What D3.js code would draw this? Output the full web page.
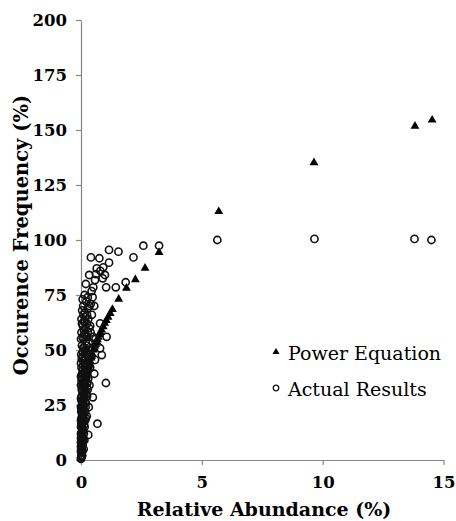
<!DOCTYPE html>
<html lang="en">
<head>
  <meta charset="UTF-8">
  <title>Occurence Frequency vs Relative Abundance</title>
  <style>
    body { margin: 0; background: #fff; }
    svg { display: block; }
  </style>
</head>
<body>
  <script src="https://cdn.jsdelivr.net/npm/d3@7/dist/d3.min.js"></script>
  <script>
// canvas size
const width = 456;
const height = 521;

// axis ticks
const xTicks = [0, 5, 10, 15];
const yTicks = [0, 25, 50, 75, 100, 125, 150, 175, 200];

// Power Equation points [relative abundance %, occurence frequency %]
const powerEq = [
  [0.001, 6.4], [0.002, 8.0], [0.003, 9.2], [0.005, 10.8], [0.008, 12.6],
  [0.01, 13.6], [0.015, 15.6], [0.02, 17.2], [0.025, 18.5], [0.03, 19.6],
  [0.035, 20.6], [0.04, 21.6], [0.045, 22.4], [0.05, 23.2], [0.055, 24.0],
  [0.06, 24.6], [0.07, 25.9], [0.08, 27.1], [0.09, 28.2], [0.1, 29.1],
  [0.11, 30.0], [0.12, 30.9], [0.14, 32.5], [0.16, 34.0], [0.18, 35.3],
  [0.2, 36.6], [0.21, 37.2], [0.23, 38.2], [0.24, 38.9], [0.26, 39.8],
  [0.28, 40.8], [0.3, 41.7], [0.32, 42.6], [0.34, 43.5], [0.36, 44.3],
  [0.38, 45.1], [0.42, 46.8], [0.44, 47.5], [0.47, 48.6], [0.52, 50.4],
  [0.55, 51.3], [0.58, 52.2], [0.61, 53.0], [0.65, 54.3], [0.68, 55.0],
  [0.72, 56.2], [0.76, 57.3], [0.8, 58.4], [0.85, 59.5], [0.92, 61.0],
  [0.98, 62.5], [1.05, 63.8], [1.12, 65.3], [1.21, 67.0], [1.3, 68.8],
  [1.56, 73.5], [1.88, 78.5], [2.25, 82.3], [2.65, 87.6], [3.23, 94.7],
  [5.7, 113.3], [9.64, 135.5], [13.82, 152.1], [14.53, 154.9]
];

// Actual Results points [relative abundance %, occurence frequency %]
const actual = [
  [5.64, 100.0], [9.66, 100.5], [13.8, 100.5], [14.5, 100.0],
  [3.23, 97.4], [2.58, 97.4], [2.17, 92.1], [1.55, 94.7], [1.16, 95.5],
  [0.41, 92.1], [0.76, 91.7], [1.16, 89.7], [0.65, 87.1], [0.92, 87.6],
  [0.34, 84.1], [0.58, 81.8], [0.9, 82.6], [0.99, 84.1], [1.04, 78.5],
  [1.44, 78.5], [1.85, 80.8], [0.51, 78.5], [0.44, 76.8], [0.28, 74.0],
  [0.48, 74.0], [0.55, 70.0], [0.79, 62.1], [1.06, 56.0], [0.79, 50.8],
  [1.03, 35.0], [0.68, 16.5], [0.49, 28.5], [0.55, 39.2], [0.58, 45.5],
  [0.86, 47.7], [0.3, 11.4], [0.62, 84.5], [0.8, 86.0], [0.2, 80.0],
  [0.05, 68], [0.1, 66], [0.15, 67], [0.2, 65], [0.12, 63], [0.25, 62],
  [0.3, 64], [0.08, 61], [0.18, 60], [0.35, 70], [0.4, 71], [0.28, 69],
  [0.22, 72], [0.45, 66], [0.38, 61], [0.07, 73], [0.15, 75], [0.02, 64],
  [0.02, 58], [0.06, 56], [0.1, 55], [0.14, 57], [0.2, 54], [0.26, 56],
  [0.32, 53], [0.04, 52], [0.09, 51], [0.17, 50], [0.24, 52], [0.4, 58],
  [0.5, 56], [0.45, 51], [0.6, 55], [0.0, 55], [0.12, 59], [0.28, 58],
  [0.01, 48], [0.03, 46], [0.06, 47], [0.1, 45], [0.14, 44], [0.19, 46],
  [0.23, 43], [0.28, 48], [0.33, 45], [0.02, 42], [0.07, 41], [0.12, 40],
  [0.17, 42], [0.38, 42], [0.42, 47], [0.0, 44], [0.08, 49], [0.21, 49],
  [0.0, 38], [0.02, 36], [0.05, 37], [0.08, 35], [0.11, 34], [0.15, 38],
  [0.2, 36], [0.25, 33], [0.03, 32], [0.06, 31], [0.1, 30], [0.14, 32],
  [0.3, 37], [0.35, 34], [0.0, 34], [0.04, 39], [0.12, 36], [0.18, 31],
  [0.0, 28], [0.02, 27], [0.04, 25], [0.07, 26], [0.1, 24], [0.13, 28],
  [0.17, 22], [0.01, 22], [0.05, 21], [0.08, 20], [0.2, 26], [0.25, 29],
  [0.32, 24], [0.0, 24], [0.03, 29], [0.12, 21], [0.15, 26],
  [0.0, 18], [0.01, 16], [0.03, 17], [0.05, 15], [0.07, 14], [0.1, 18],
  [0.12, 12], [0.0, 12], [0.02, 11], [0.04, 13], [0.15, 15], [0.2, 19],
  [0.06, 10], [0.0, 15], [0.02, 19], [0.08, 17], [0.1, 13],
  [0.0, 8], [0.01, 6], [0.0, 4], [0.02, 3], [0.0, 1], [0.01, 2], [0.03, 5],
  [0.04, 8], [0.02, 9], [0.05, 7], [0.0, 0.5], [0.06, 4], [0.08, 9],
  [0.0, 10], [0.01, 3.5], [0.03, 1.5], [0.0, 6],
  [0.22, 40], [0.27, 44], [0.16, 47], [0.31, 50], [0.18, 39], [0.09, 43],
  [0.26, 35], [0.16, 34], [0.06, 34], [0.22, 30], [0.14, 29], [0.05, 27],
  [0.19, 24], [0.09, 23], [0.03, 23], [0.17, 18], [0.13, 16], [0.06, 18],
  [0.1, 10], [0.14, 9], [0.07, 7], [0.04, 11], [0.11, 5], [0.05, 2],
  [0.24, 20], [0.28, 32], [0.13, 51], [0.35, 48], [0.08, 39], [0.2, 43],
  [0.04, 62], [0.16, 63], [0.09, 70], [0.25, 66], [0.33, 60], [0.19, 57]
];

const legendItems = ['Power Equation', 'Actual Results'];

// margins
const margin = { top: 20, right: 12.5, bottom: 61, left: 81 };
const innerWidth = width - margin.left - margin.right;
const innerHeight = height - margin.top - margin.bottom;

const svg = d3.select('body')
  .append('svg')
  .attr('width', width)
  .attr('height', height);

const g = svg.append('g')
  .attr('transform', `translate(${margin.left}, ${margin.top})`);

const xScale = d3.scaleLinear().domain([0, 15]).range([0, innerWidth]);
const yScale = d3.scaleLinear().domain([0, 200]).range([innerHeight, 0]);

const serif = "'DejaVu Serif', 'Liberation Serif', serif";
const axisColor = '#868686';

// x axis
const xAxisG = g.append('g')
  .attr('transform', `translate(0, ${innerHeight})`)
  .call(d3.axisBottom(xScale).tickValues(xTicks).tickSize(5).tickSizeOuter(0));
// y axis
const yAxisG = g.append('g')
  .call(d3.axisLeft(yScale).tickValues(yTicks).tickSize(5).tickSizeOuter(0));

[xAxisG, yAxisG].forEach(a => {
  a.attr('font-family', serif).attr('font-size', 16.5).attr('font-weight', 'bold');
  a.select('.domain').attr('stroke', axisColor).attr('stroke-width', 1.2);
  a.selectAll('.tick line').attr('stroke', axisColor).attr('stroke-width', 1.2);
  a.selectAll('.tick text').attr('fill', '#000');
});
xAxisG.selectAll('.tick text').attr('y', 28).attr('dy', 0);
yAxisG.selectAll('.tick text').attr('x', -14).attr('dy', '0.35em');

// triangle symbol
const tri = d3.symbol().type(d3.symbolTriangle);

// Power Equation marks
g.selectAll('.pow')
  .data(powerEq)
  .enter()
  .append('path')
  .attr('class', 'pow')
  .attr('d', tri.size(34)())
  .attr('transform', d => `translate(${xScale(d[0])}, ${yScale(d[1]) + 0.8})`)
  .attr('fill', '#000');

// Actual Results marks
g.selectAll('.act')
  .data(actual)
  .enter()
  .append('circle')
  .attr('class', 'act')
  .attr('cx', d => xScale(d[0]))
  .attr('cy', d => yScale(d[1]))
  .attr('r', 3.6)
  .attr('fill', 'none')
  .attr('stroke', '#111')
  .attr('stroke-width', 1.6);

// axis titles
svg.append('text')
  .attr('x', 264)
  .attr('y', 516)
  .attr('text-anchor', 'middle')
  .attr('font-family', serif)
  .attr('font-weight', 'bold')
  .attr('font-size', 19)
  .text('Relative Abundance (%)');

svg.append('text')
  .attr('transform', 'translate(28, 235) rotate(-90)')
  .attr('text-anchor', 'middle')
  .attr('font-family', serif)
  .attr('font-weight', 'bold')
  .attr('font-size', 19.5)
  .text('Occurence Frequency (%)');

// legend
const legend = svg.append('g').attr('transform', 'translate(276, 352)');
legendItems.forEach((name, i) => {
  const row = legend.append('g').attr('transform', `translate(0, ${i * 36})`);
  if (i === 0) {
    row.append('path').attr('d', tri.size(22)()).attr('fill', '#000');
  } else {
    row.append('circle').attr('r', 2.8).attr('fill', 'none')
      .attr('stroke', '#111').attr('stroke-width', 1.3);
  }
  row.append('text')
    .attr('x', 12)
    .attr('y', 7.5)
    .attr('font-family', serif)
    .attr('font-size', 19)
    .text(name);
});
  </script>
</body>
</html>
